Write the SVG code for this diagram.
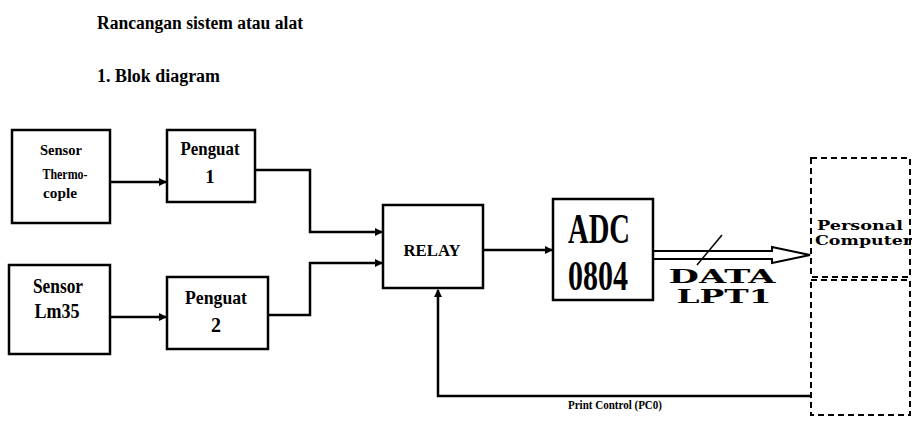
<svg xmlns="http://www.w3.org/2000/svg" width="912" height="421" viewBox="0 0 912 421">
<defs>
<marker id="ah" markerWidth="8" markerHeight="8" refX="7" refY="4" orient="auto" markerUnits="userSpaceOnUse">
<path d="M0,0 L8,4 L0,8 Z" fill="#000"/>
</marker>
</defs>
<style>
.box{fill:#fff;stroke:#000;stroke-width:2.5}
.dash{fill:none;stroke:#000;stroke-width:2;stroke-dasharray:6,4}
.ln{fill:none;stroke:#000;stroke-width:2.5}
.t{font-family:"Liberation Serif","DejaVu Serif",serif;font-weight:bold;fill:#000;text-anchor:middle}
.h{font-family:"Liberation Serif","DejaVu Serif",serif;font-weight:bold;fill:#000}
.w{font-family:"DejaVu Serif",serif;font-weight:bold;fill:#000;text-anchor:middle}
</style>
<text class="h" x="97" y="29" font-size="18" textLength="206" lengthAdjust="spacingAndGlyphs">Rancangan sistem atau alat</text>
<text class="h" x="97" y="82" font-size="18" textLength="123" lengthAdjust="spacingAndGlyphs">1. Blok diagram</text>

<g id="connectors">
<line class="ln" x1="110" y1="182" x2="166" y2="182" marker-end="url(#ah)"/>
<line class="ln" x1="110" y1="317" x2="166" y2="317" marker-end="url(#ah)"/>
<polyline class="ln" points="255,170 310,170 310,232 382,232" marker-end="url(#ah)"/>
<polyline class="ln" points="268,315 310,315 310,263 382,263" marker-end="url(#ah)"/>
<line class="ln" x1="483" y1="250" x2="552" y2="250" marker-end="url(#ah)"/>
<path d="M653,251 L772,251 L772,247 L810,255 L772,263 L772,259 L653,259" fill="#fff" stroke="#000" stroke-width="2"/>
<line x1="722" y1="235" x2="697" y2="265" stroke="#000" stroke-width="1.5"/>
<polyline class="ln" points="810,396 438,396 438,290" marker-end="url(#ah)"/>
</g>

<g id="sensor-thermo">
<rect class="box" x="12" y="130" width="98" height="93"/>
<text class="t" x="61" y="155" font-size="14" textLength="42" lengthAdjust="spacingAndGlyphs">Sensor</text>
<text class="t" x="65" y="179" font-size="15" textLength="45" lengthAdjust="spacingAndGlyphs">Thermo-</text>
<text class="t" x="60" y="198" font-size="14" textLength="34" lengthAdjust="spacingAndGlyphs">cople</text>
</g>
<g id="penguat1">
<rect class="box" x="167" y="130" width="88" height="72"/>
<text class="t" x="210" y="155" font-size="19" textLength="59" lengthAdjust="spacingAndGlyphs">Penguat</text>
<text class="t" x="210" y="183" font-size="19">1</text>
</g>
<g id="sensor-lm35">
<rect class="box" x="9" y="265" width="101" height="89"/>
<text class="t" x="58" y="293" font-size="20" textLength="50" lengthAdjust="spacingAndGlyphs">Sensor</text>
<text class="t" x="57" y="318" font-size="20" textLength="45" lengthAdjust="spacingAndGlyphs">Lm35</text>
</g>
<g id="penguat2">
<rect class="box" x="167" y="277" width="101" height="72"/>
<text class="t" x="216" y="304" font-size="19" textLength="62" lengthAdjust="spacingAndGlyphs">Penguat</text>
<text class="t" x="216" y="332" font-size="20">2</text>
</g>
<g id="relay">
<rect class="box" x="383" y="205" width="100" height="83"/>
<text class="t" x="432" y="256" font-size="17" textLength="57" lengthAdjust="spacingAndGlyphs">RELAY</text>
</g>
<g id="adc">
<rect class="box" x="553" y="199" width="100" height="101"/>
<text class="t" x="599" y="243" font-size="42" textLength="62" lengthAdjust="spacingAndGlyphs">ADC</text>
<text class="t" x="598" y="290" font-size="42" textLength="60" lengthAdjust="spacingAndGlyphs">0804</text>
</g>
<g id="data-label">
<text class="w" x="722" y="283" font-size="18" textLength="107" lengthAdjust="spacingAndGlyphs">DATA</text>
<text class="w" x="724" y="303" font-size="18" textLength="95" lengthAdjust="spacingAndGlyphs">LPT1</text>
</g>
<g id="pc">
<rect class="dash" x="811" y="158" width="99" height="119"/>
<rect class="dash" x="811" y="280" width="99" height="135"/>
<text class="w" x="817" y="230" font-size="13" style="text-anchor:start" textLength="86" lengthAdjust="spacingAndGlyphs">Personal</text>
<text class="w" x="815" y="245" font-size="13" style="text-anchor:start" textLength="97" lengthAdjust="spacingAndGlyphs">Computer</text>
</g>
<text class="t" x="615" y="409" font-size="12" textLength="94" lengthAdjust="spacingAndGlyphs">Print Control (PC0)</text>
</svg>
